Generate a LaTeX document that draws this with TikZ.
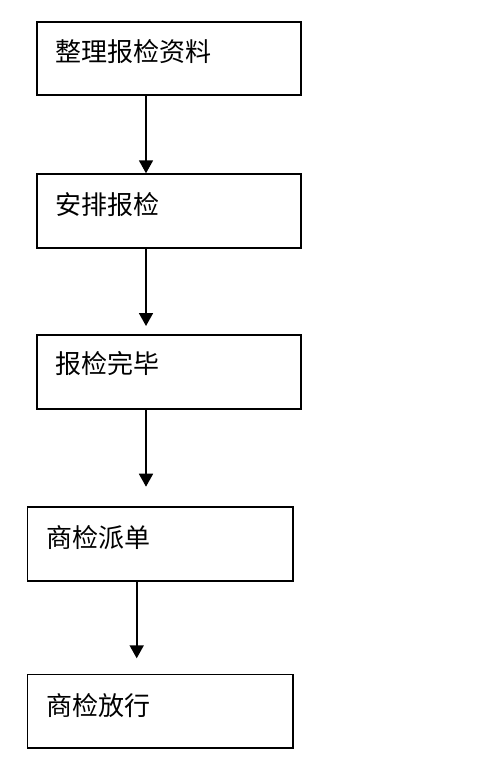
\documentclass[tikz,border=0pt]{standalone}
\usepackage{fontspec}
\newfontfamily\cjk{Noto Sans CJK SC}
\usetikzlibrary{arrows.meta}
\begin{document}
\begin{tikzpicture}[x=1pt,y=-1pt,
  stepbox/.style={line width=1.8pt,rectangle,inner sep=0pt,anchor=north west},
  lbl/.style={anchor=west,inner sep=0pt,font=\cjk\fontsize{26}{26}\selectfont},
  flow/.style={line width=1.8pt,-{Triangle[width=14pt,length=13pt]}}]
\useasboundingbox[fill=white] (0,0) rectangle (500,770);
\node[stepbox,minimum width=262pt,minimum height=71pt] (b1) at (37,22) {};
\node[stepbox,minimum width=262pt,minimum height=72pt] (b2) at (37,174) {};
\node[stepbox,minimum width=262pt,minimum height=72pt] (b3) at (37,335) {};
\node[stepbox,minimum width=264pt,minimum height=72pt] (b4) at (27.5,507) {};
\node[stepbox,minimum width=264pt,minimum height=72pt] (b5) at (27.5,674.5) {};
\foreach \b in {b1,b2,b3,b4,b5}
  \draw[line width=1.8pt] (\b.north west) rectangle (\b.south east);
\node[lbl] (t1) at (55,51.5) {整理报检资料};
\node[lbl] (t2) at (55,204.5) {安排报检};
\node[lbl] (t3) at (55,364) {报检完毕};
\node[lbl] (t4) at (46,537.5) {商检派单};
\node[lbl] (t5) at (46,705.5) {商检放行};
\coordinate (e1) at (146,173.3);
\coordinate (e2) at (146,326);
\coordinate (e3) at (146,486.7);
\coordinate (e4) at (136.7,658.3);
\draw[flow] (b1.south -| e1) -- (e1);
\draw[flow] (b2.south -| e2) -- (e2);
\draw[flow] (b3.south -| e3) -- (e3);
\draw[flow] (b4.south -| e4) -- (e4);
\end{tikzpicture}
\end{document}
